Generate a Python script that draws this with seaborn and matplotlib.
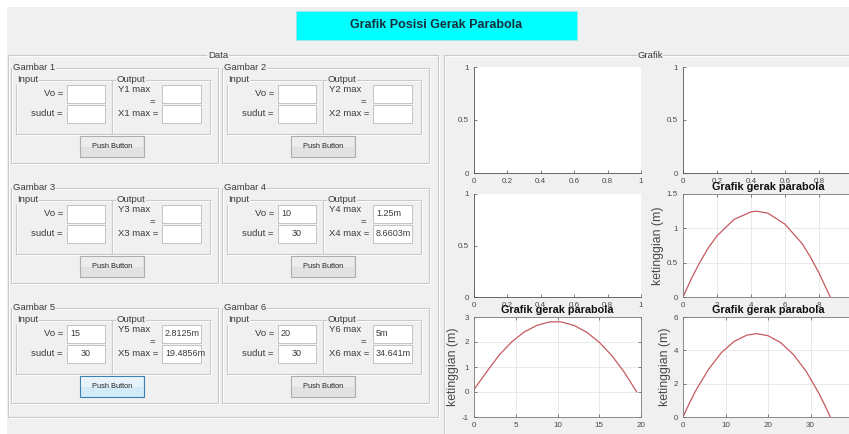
import matplotlib
matplotlib.use("Agg")
import matplotlib.pyplot as plt
from matplotlib.patches import Rectangle
from matplotlib.ticker import FuncFormatter, MultipleLocator
import seaborn as sns

# ---------------- data ----------------
main_title = "Grafik Posisi Gerak Parabola"
gambar_names = ["Gambar 1", "Gambar 2", "Gambar 3", "Gambar 4", "Gambar 5", "Gambar 6"]
vo_values = ["", "", "", "10", "15", "20"]
sudut_values = ["", "", "", "30", "30", "30"]
ymax_values = ["", "", "", "1.25m", "2.8125m", "5m"]
xmax_values = ["", "", "", "8.6603m", "19.4856m", "34.641m"]
button_label = "Push Button"

# trajectories (x = distance, y = height in m)
x_g4 = [0, 0.5, 1, 1.5, 2, 3, 4, 4.33, 5, 6, 7, 7.5, 8, 8.66]
y_g4 = [0, 0.27, 0.51, 0.72, 0.89, 1.13, 1.24, 1.25, 1.22, 1.06, 0.78, 0.58, 0.35, 0]
x_g5 = [0, 1.5, 3, 4.5, 6, 7.5, 9, 9.74, 10.5, 12, 13.5, 15, 16.5, 18, 19.49]
y_g5 = [0.1, 0.8, 1.47, 2.0, 2.4, 2.66, 2.8, 2.81, 2.8, 2.66, 2.39, 1.99, 1.46, 0.79, 0]
x_g6 = [0, 1.5, 3, 6, 9, 12, 15, 17.32, 20, 23, 26, 29, 32, 33.5, 34.64]
y_g6 = [0, 0.83, 1.58, 2.86, 3.85, 4.53, 4.91, 5.0, 4.88, 4.46, 3.74, 2.73, 1.41, 0.64, 0]
ylabel_text = "ketinggian (m)"
plot_title = "Grafik gerak parabola"

# ---------------- style ----------------
sns.set_theme(style="white")
plt.rcParams["font.family"] = ["Liberation Sans", "DejaVu Sans"]

W, H = 849, 434
fig = plt.figure(figsize=(W / 100, H / 100), dpi=100, facecolor="#f0f0f0")

bg = fig.add_axes([0, 0, 1, 1])
bg.set_xlim(0, W)
bg.set_ylim(H, 0)
bg.axis("off")
bg.set_zorder(0)

TXT = "#3a3a3a"
PANEL_BG = "#f0f0f0"

bg.add_patch(Rectangle((0, 0), W, 7, fc="white", ec="none"))
bg.add_patch(Rectangle((0, 0), 7, H, fc="white", ec="none"))


def panel(x0, y0, x1, y1, title=None, tx=None, ha="left", fs=6.8):
    bg.add_patch(Rectangle((x0 + 1, y0 + 1), x1 - x0, y1 - y0, fill=False, ec="white", lw=0.8))
    bg.add_patch(Rectangle((x0, y0), x1 - x0, y1 - y0, fill=False, ec="#c9c9c9", lw=0.8))
    if title:
        bg.text(tx, y0, title, ha=ha, va="center", fontsize=fs, color=TXT,
                bbox=dict(fc=PANEL_BG, ec="none", pad=0.4))


def field(x0, y0, x1, y1, value="", align="left"):
    r = Rectangle((x0, y0), x1 - x0, y1 - y0, fc="white", ec="#c3c3c3", lw=0.7)
    bg.add_patch(r)
    if value:
        if align == "left":
            t = bg.text(x0 + 3, (y0 + y1) / 2, value, ha="left", va="center", fontsize=6.5, color=TXT)
        else:
            t = bg.text((x0 + x1) / 2, (y0 + y1) / 2, value, ha="center", va="center", fontsize=6.5, color=TXT)
        t.set_clip_path(r)


def button(x0, y0, x1, y1, active=False):
    if active:
        bg.add_patch(Rectangle((x0, y0), x1 - x0, y1 - y0, fc="#d3ebf9", ec="#3c7fb1", lw=0.8))
        bg.add_patch(Rectangle((x0 + 1, y0 + 1), x1 - x0 - 2, (y1 - y0) / 2 - 1, fc="#e6f3fb", ec="none"))
    else:
        bg.add_patch(Rectangle((x0, y0), x1 - x0, y1 - y0, fc="#e2e2e2", ec="#adadad", lw=0.8))
        bg.add_patch(Rectangle((x0 + 1, y0 + 1), x1 - x0 - 2, (y1 - y0) / 2 - 1, fc="#ececec", ec="none"))
    bg.text((x0 + x1) / 2, (y0 + y1) / 2, button_label, ha="center", va="center", fontsize=5.3, color="#202020")


# title box
bg.add_patch(Rectangle((296, 11), 281, 29, fc="#00ffff", ec="#9fe8e8", lw=0.6))
bg.text(436, 25.5, main_title, ha="center", va="center", fontsize=9, fontweight="bold", color="#15303a")

# Data panel and Grafik panel
panel(8, 55, 438, 417, "Data", 218, ha="center")
panel(444, 55, 870, 445, "Grafik", 650, ha="center")

for i, name in enumerate(gambar_names):
    c, r = i % 2, i // 2
    ox, oy = 11 + 211 * c, 68 + 120 * r
    panel(ox, oy, ox + 207, oy + 95, name, ox + 2)
    panel(ox + 5, oy + 12, ox + 101, oy + 66, "Input", ox + 6)
    panel(ox + 101, oy + 12, ox + 199, oy + 66, "Output", ox + 106)
    bg.text(ox + 52, oy + 26, "Vo =", ha="right", va="center", fontsize=6.8, color=TXT)
    bg.text(ox + 52, oy + 46, "sudut =", ha="right", va="center", fontsize=6.8, color=TXT)
    field(ox + 56, oy + 17, ox + 94, oy + 35, vo_values[i], "left")
    field(ox + 56, oy + 37, ox + 94, oy + 55, sudut_values[i], "center")
    k = i + 1
    bg.text(ox + 139, oy + 21, f"Y{k} max", ha="right", va="center", fontsize=6.8, color=TXT)
    bg.text(ox + 141, oy + 34, "=", ha="center", va="center", fontsize=6.8, color=TXT)
    bg.text(ox + 147, oy + 46, f"X{k} max =", ha="right", va="center", fontsize=6.8, color=TXT)
    field(ox + 151, oy + 17, ox + 190, oy + 35, ymax_values[i], "left")
    field(ox + 151, oy + 37, ox + 190, oy + 55, xmax_values[i], "left")
    button(ox + 69, oy + 68, ox + 133, oy + 89, active=(i == 4))


# ---------------- axes ----------------
def add_ax(x0, y0, x1, y1):
    ax = fig.add_axes([x0 / W, 1 - y1 / H, (x1 - x0) / W, (y1 - y0) / H])
    ax.set_facecolor("white")
    return ax


fmt = FuncFormatter(lambda v, p: f"{v:g}")
AXC = "#505050"


def style(ax, xlim, xstep, ylim, ystep, box=False, grid=False):
    ax.set_xlim(*xlim)
    ax.set_ylim(*ylim)
    ax.xaxis.set_major_locator(MultipleLocator(xstep))
    ax.yaxis.set_major_locator(MultipleLocator(ystep))
    ax.xaxis.set_major_formatter(fmt)
    ax.yaxis.set_major_formatter(fmt)
    ax.tick_params(direction="in", length=2.5, width=0.5, labelsize=5.8,
                   colors=AXC, labelcolor="#4a4a4a", pad=3.5, bottom=True, left=True,
                   top=box, right=box)
    for s in ["left", "bottom", "top", "right"]:
        ax.spines[s].set_color("#7a7a7a" if box else AXC)
        ax.spines[s].set_linewidth(0.6)
    if not box:
        ax.spines["top"].set_visible(False)
        ax.spines["right"].set_visible(False)
    if grid:
        ax.grid(True, color="#e2e2e2", lw=0.5)
        ax.set_axisbelow(True)
    else:
        ax.grid(False)
    ax.set_xlabel("")
    ax.set_ylabel("")


LX = (474, 641)
RX = (683, 853)
ROWS = [(67, 173), (194, 297), (317, 417)]

# empty axes
for (x0, x1), (y0, y1) in [(LX, ROWS[0]), (RX, ROWS[0]), (LX, ROWS[1])]:
    a = add_ax(x0, y0, x1, y1)
    style(a, (0, 1), 0.2, (0, 1), 0.5)

LINE = "#c55a60"
curves = [
    (RX, ROWS[1], x_g4, y_g4, (0, 10), 2, (0, 1.5), 0.5),
    (LX, ROWS[2], x_g5, y_g5, (0, 20), 5, (-1, 3), 1),
    (RX, ROWS[2], x_g6, y_g6, (0, 40), 10, (0, 6), 2),
]
for (x0, x1), (y0, y1), xs, ys, xl, xs_step, yl, ys_step in curves:
    a = add_ax(x0, y0, x1, y1)
    sns.lineplot(x=xs, y=ys, ax=a, color=LINE, linewidth=0.9, sort=False)
    style(a, xl, xs_step, yl, ys_step, box=True, grid=True)
    a.set_title(plot_title, fontsize=7.8, fontweight="bold", color="#111111", pad=3)
    a.set_ylabel(ylabel_text, fontsize=8.8, color="#4a4a4a", labelpad=2)

fig.savefig("out.png", dpi=100, facecolor=fig.get_facecolor())
